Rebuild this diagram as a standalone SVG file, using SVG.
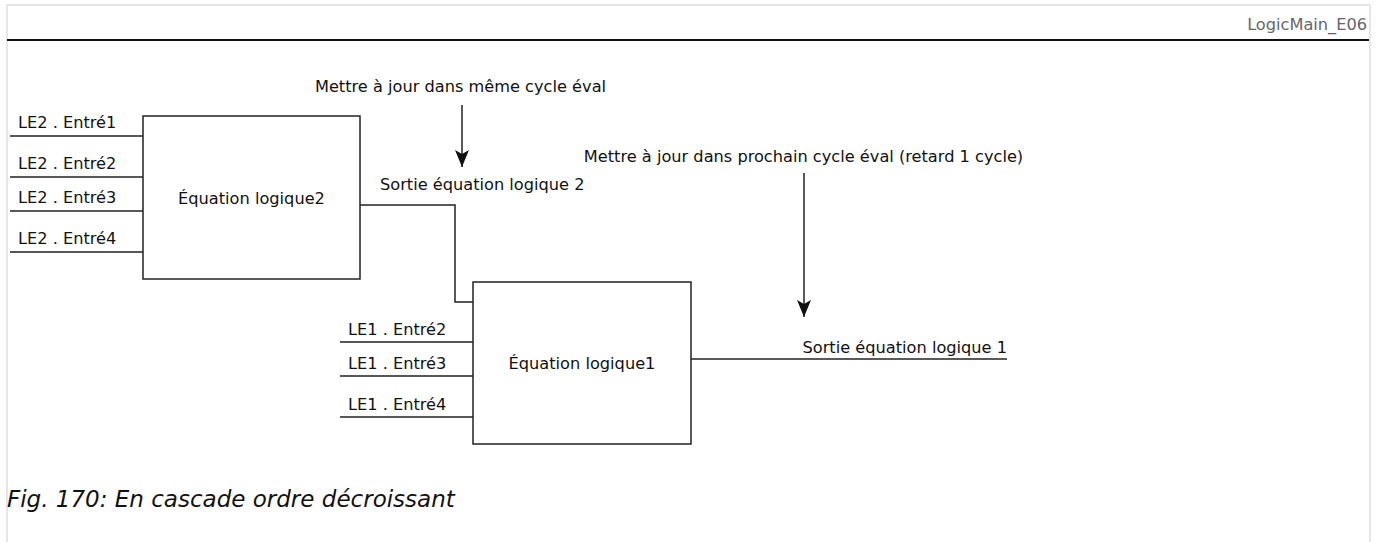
<svg xmlns="http://www.w3.org/2000/svg" width="1381" height="542" viewBox="0 0 1381 542">
<style>
.t{font-family:"DejaVu Sans",sans-serif;font-size:16.2px;fill:#111}
.w{fill:none;stroke:#222;stroke-width:1.5}
.box{fill:#fff;stroke:#222;stroke-width:1.5}
</style>
<defs>
<marker id="ah" markerWidth="17" markerHeight="14" refX="17" refY="7" orient="auto" markerUnits="userSpaceOnUse" viewBox="0 0 17 14">
<path d="M0,0 L17,7 L0,14 L4,7 Z" fill="#111"/>
</marker>
</defs>
<rect x="0" y="0" width="1381" height="542" fill="#fff"/>
<rect x="7" y="5" width="1363" height="600" fill="none" stroke="#e6e6e6" stroke-width="2"/>
<line x1="7" y1="40" x2="1369" y2="40" stroke="#111" stroke-width="2.2"/>
<text class="t" x="1367" y="30" text-anchor="end" style="fill:#666">LogicMain_E06</text>

<g id="connectors">
<path class="w" d="M10,136H143M10,177H143M10,211H143M10,252H143"/>
<path class="w" d="M360,205H455V302H473"/>
<path class="w" d="M340,342H473M340,376H473M340,417H473"/>
<path class="w" d="M691,359H1007"/>
<line class="w" x1="462" y1="105" x2="462" y2="167" marker-end="url(#ah)"/>
<line class="w" x1="804" y1="173" x2="804" y2="317" marker-end="url(#ah)"/>
</g>

<g id="le2">
<rect class="box" x="143" y="116" width="217" height="163"/>
<text class="t" x="251.5" y="204" text-anchor="middle">Équation logique2</text>
</g>
<g id="le2-inputs">
<text class="t" x="18" y="128">LE2 . Entré1</text>
<text class="t" x="18" y="169">LE2 . Entré2</text>
<text class="t" x="18" y="203">LE2 . Entré3</text>
<text class="t" x="18" y="244">LE2 . Entré4</text>
</g>
<g id="le2-out">
<text class="t" x="380" y="190">Sortie équation logique 2</text>
</g>
<g id="le1">
<rect class="box" x="473" y="282" width="218" height="162"/>
<text class="t" x="582" y="369" text-anchor="middle">Équation logique1</text>
</g>
<g id="le1-inputs">
<text class="t" x="348" y="335">LE1 . Entré2</text>
<text class="t" x="348" y="369">LE1 . Entré3</text>
<text class="t" x="348" y="410">LE1 . Entré4</text>
</g>
<g id="le1-out">
<text class="t" x="1007" y="353" text-anchor="end">Sortie équation logique 1</text>
</g>
<g id="note-same">
<text class="t" x="460.5" y="92" text-anchor="middle">Mettre à jour dans même cycle éval</text>
</g>
<g id="note-next">
<text class="t" x="803.5" y="162" text-anchor="middle">Mettre à jour dans prochain cycle éval (retard 1 cycle)</text>
</g>
<text x="7" y="507" style="font-family:'DejaVu Sans',sans-serif;font-style:italic;font-size:23px;fill:#111">Fig. 170: En cascade ordre décroissant</text>
</svg>
